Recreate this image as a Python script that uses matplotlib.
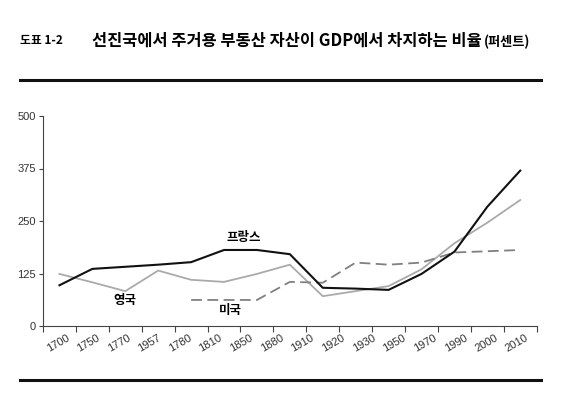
import numpy as np
import matplotlib
matplotlib.use('Agg')
import matplotlib.pyplot as plt
from matplotlib.lines import Line2D

plt.rcParams['font.family'] = ['Noto Sans CJK KR', 'DejaVu Sans']

# x labels (16 of them, as printed) and the 15 plotted points
year_labels = ['1700', '1750', '1770', '1957', '1780', '1810', '1850', '1880',
               '1910', '1920', '1930', '1950', '1970', '1990', '2000', '2010']
france = [97, 136, 141, 146, 152, 181, 181, 171, 91, 89, 86, 124, 177, 284, 370]
uk = [124, 104, 83, 132, 110, 105, 124, 146, 71, 83, 95, 135, 197, 246, 300]
usa = [None, None, None, None, 62, 62, 62, 105, 103, 151, 146, 151, 175, 178, 181]
y_ticks = [0, 125, 250, 375, 500]

W, H = 567, 399
fig = plt.figure(figsize=(W / 100, H / 100), dpi=100)
ax = fig.add_axes([43 / W, 1 - 326 / H, (536.7 - 43) / W, (326 - 116) / H])

xs = np.arange(len(france)) + 0.5
usa_arr = np.array([np.nan if v is None else v for v in usa], dtype=float)

ax.plot(xs, uk, color='#aaaaaa', lw=1.3)
ax.plot(xs, usa_arr, color='#808080', lw=1.3, dashes=(6, 3))
ax.plot(xs, france, color='#111111', lw=1.5)

ax.set_xlim(0, 15)
ax.set_ylim(0, 500)
ax.set_yticks(y_ticks)
ax.set_yticklabels([str(v) for v in y_ticks], family='Liberation Sans')

# tick marks at integer positions, labels drift on their own spacing
ax.xaxis.remove_overlapping_locs = False
ax.set_xticks(np.arange(16))
ax.set_xticklabels([])
lab_pos = np.linspace(0.70, 14.65, len(year_labels))
ax.set_xticks(lab_pos, minor=True)
ax.set_xticklabels(year_labels, minor=True, rotation=30, ha='right',
                   va='top', rotation_mode='anchor', family='Liberation Sans')
ax.tick_params(axis='x', which='minor', length=0, pad=5, labelsize=8,
               labelcolor='#333333')
ax.tick_params(axis='x', which='major', length=4, width=0.8, color='#444444')
ax.tick_params(axis='y', length=3, width=0.8, color='#444444', labelsize=8,
               labelcolor='#333333', pad=2)

for s in ['top', 'right']:
    ax.spines[s].set_visible(False)
for s in ['left', 'bottom']:
    ax.spines[s].set_color('#444444')
    ax.spines[s].set_linewidth(0.8)

ax.text(6.1, 210, '프랑스', fontsize=9, fontweight='bold', ha='center', va='center')
ax.text(2.5, 60, '영국', fontsize=9, fontweight='bold', ha='center', va='center')
ax.text(5.7, 38, '미국', fontsize=9, fontweight='bold', ha='center', va='center')

# header
fig.text(20 / W, 1 - 41 / H, '도표 1-2', fontsize=8.5, fontweight='bold',
         ha='left', va='center')
t = fig.text(92 / W, 1 - 41 / H, '선진국에서 주거용 부동산 자산이 GDP에서 차지하는 비율',
             fontsize=11.8, fontweight='bold', ha='left', va='center')
fig.canvas.draw()
bb = t.get_window_extent()
fig.text(bb.x1 / W + 2 / W, 1 - 42 / H, '(퍼센트)', fontsize=9.5, fontweight='bold',
         ha='left', va='center')

fig.add_artist(Line2D([20 / W, 541 / W], [1 - 80 / H, 1 - 80 / H],
                      color='#111111', lw=2.2, transform=fig.transFigure))
fig.add_artist(Line2D([20 / W, 541 / W], [1 - 380 / H, 1 - 380 / H],
                      color='#111111', lw=2.2, transform=fig.transFigure))

fig.savefig('out.png', dpi=100)
